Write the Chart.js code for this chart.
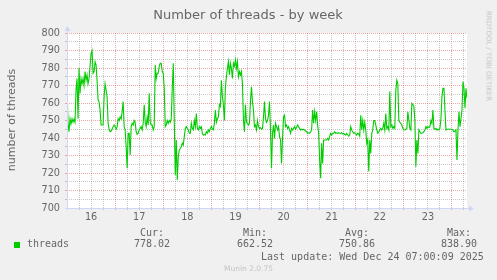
<!DOCTYPE html>
<html>
<head>
<meta charset="utf-8">
<title>Number of threads - by week</title>
<script src="https://cdn.jsdelivr.net/npm/chart.js@4.4.1/dist/chart.umd.min.js"></script>
<style>
  html, body { margin: 0; padding: 0; background: #f0f0f0; }
  #wrap { position: relative; width: 497px; height: 280px; overflow: hidden;
          font-family: 'DejaVu Sans', sans-serif; color: #666; }
  #c { position: absolute; left: 0; top: 0; }
  .t { position: absolute; white-space: nowrap; line-height: 1; }
  .mono { font-family: 'DejaVu Sans Mono', monospace; font-size: 10px; }
</style>
</head>
<body>
<div id="wrap">
  <canvas id="c" width="497" height="280"></canvas>
</div>
<script>
(function () {
    'use strict';

    // one sample every 30 minutes, starting Tue Dec 16 00:00
    var sampleStepHours = 0.5;
    var threads = [
        770, 748.4, 743.6, 751, 748, 751, 749, 750.7, 749, 767.4, 774, 751, 780, 765.5, 774, 771, 774, 770,
        778, 773, 776, 771, 774, 781, 788.4, 790, 777, 778, 783.6, 781.7, 773, 761.7, 760.8, 756, 747.4, 747.4,
        747.4, 763.6, 771, 767.4, 763.6, 748.4, 745, 743.6, 744, 745, 746.5, 747.4, 746.5, 745, 746.5, 751,
        750, 752, 751, 755, 760.8, 746.5, 744.6, 735, 722.7, 742.7, 742.7, 730.3, 746.5, 748.4, 747.4, 750, 749,
        // Dec 17 10:30
        743.6, 742, 742.7, 744.6, 745.5, 746.5, 744.6, 748.4, 759, 749, 746.5, 752, 747.4, 765.5, 749, 747.4,
        747.4, 744.6, 746.5, 781.7, 774, 777, 777, 781, 782.7, 782.7, 778, 777, 768.4, 746.5, 747.4, 750, 748.4,
        750, 749, 751, 768.4, 782.7, 750, 718.9, 738.9, 716, 729.3, 733.1, 734, 735, 737, 736, 740.8, 745.5,
        746.5, 745.5, 744.6, 742.7, 742.7, 748.4, 745.5, 744.6, 750, 746.5, 754, 745.5, 744.6, 746.5, 745.5,
        746.5, 742.7,
        // Dec 18 20:00
        741.7, 742, 741.7, 743.6, 742.7, 744.6, 743.6, 745.5, 746.5, 745, 744.6, 748.4, 756, 749, 751, 752,
        759, 758, 773, 763.6, 759, 750, 769, 775, 779.8, 783.6, 776, 782.7, 779.8, 774, 782.7, 781, 784.6,
        779.8, 783.6, 775, 778, 776, 778, 771, 750, 743.6, 759, 749, 748.4, 747.4, 748.4, 760.8, 769.3, 760.8,
        756, 746.5, 747.4, 744.6, 750, 746.5, 745.5, 746, 745, 745.5, 752, 760.8, 751, 749, 750, 753, 760.8,
        // Dec 20 05:30
        744.6, 722.7, 742.7, 747.4, 739.8, 748.4, 746.5, 744.6, 746.5, 740.8, 738.9, 725.5, 739.8, 752, 753,
        746.5, 747.4, 745.5, 746.5, 744.6, 742.7, 745.5, 744.6, 745.5, 746.5, 745, 746, 747.4, 746.5, 745.5,
        744.6, 745, 744.6, 745, 744.6, 744, 743.6, 742.7, 743, 742.7, 743.6, 744.6, 756, 748.4, 755, 750, 755,
        747.4, 742.7, 727.4, 717, 737, 725.5, 738.9, 738.9, 738.9, 738.9, 739.8, 738.9, 740.8, 742.7, 741.7,
        742.7, 742.7, 743.6, 742.7, 743, 742.7, 743, 742.7,
        // Dec 21 16:30
        742.7, 743, 742.3, 742.7, 742, 741.7, 742.7, 741.7, 741, 741.7, 746.5, 744.6, 743.6, 742.7, 743, 742.3,
        741.7, 742.7, 742.3, 741, 753, 744.6, 750, 744.6, 749, 744.6, 737, 738.9, 720.8, 738.9, 731.2, 742.7,
        744.6, 750, 750, 747.4, 744.6, 742.7, 743.6, 744.6, 745.5, 744.6, 745.5, 748.4, 744.6, 754, 745.5,
        746.5, 744.6, 766.5, 746.5, 747.4, 745.5, 746.5, 745.5, 767.4, 773, 771, 750, 749, 748.4, 747.4, 745.5,
        744.6, 744.6, 745, 745.5, 755,
        // Dec 23 02:30
        750, 745.5, 744.6, 759.8, 759, 758, 750, 723.6, 738.9, 731.2, 744.6, 743.6, 742.7, 742.7, 743, 743.6,
        744.6, 746.5, 745.5, 746.5, 746, 746.5, 750, 748.4, 756, 745.5, 745, 745.5, 744.6, 745, 744.6, 745.5,
        751, 763.6, 768.4, 768.4, 756, 744.6, 745, 745, 745, 745, 745, 745, 744.6, 743.6, 744, 744.6, 727.4,
        744.6, 755, 746.5, 751, 756, 772.2, 768.4, 757, 768.4, 762.7, 768.4
    ];
    var dayLabels = ['16', '17', '18', '19', '20', '21', '22', '23'];
    var statNames = ['Cur:', 'Min:', 'Avg:', 'Max:'];
    var statValues = ['778.02', '662.52', '750.86', '838.90'];
    var seriesName = 'threads';
    var lastUpdate = 'Last update: Wed Dec 24 07:00:09 2025';

    var RED = 'rgba(222,79,79,0.5)';
    var GRAY = 'rgba(143,143,143,0.5)';
    var AXIS = '#cfd6f8';

    var wrap = document.getElementById('wrap');
    function addText(text, cls, css) {
        var d = document.createElement('div');
        d.className = 't' + (cls ? ' ' + cls : '');
        d.textContent = text;
        d.style.cssText = css;
        wrap.appendChild(d);
        return d;
    }

    addText('Number of threads - by week', '', 'left:248px;top:13.5px;font-size:13px;transform:translate(-50%,-50%);');
    addText('number of threads', '', 'left:11px;top:120px;font-size:11px;transform:translate(-50%,-50%) rotate(-90deg);');
    addText('RRDTOOL / TOBI OETIKER', '', 'left:487.5px;top:56px;font-size:7px;color:#c4c4c4;transform:translate(-50%,-50%) rotate(90deg);');

    var sq = document.createElement('div');
    sq.style.cssText = 'position:absolute;left:14px;top:242px;width:6px;height:6px;background:#00cc00;';
    wrap.appendChild(sq);
    addText(seriesName, 'mono', 'left:27px;top:244px;transform:translate(0,-50%);');
    var statX = [152, 255, 357, 459];
    statNames.forEach(function (n, i) {
        addText(n, 'mono', 'left:' + statX[i] + 'px;top:232.7px;transform:translate(-50%,-50%);');
        addText(statValues[i], 'mono', 'left:' + statX[i] + 'px;top:244.3px;transform:translate(-50%,-50%);');
    });
    addText(lastUpdate, 'mono', 'left:261px;top:256.7px;transform:translate(0,-50%);');
    addText('Munin 2.0.75', '', 'left:248.5px;top:269.3px;font-size:7.5px;color:#c4c4c4;transform:translate(-50%,-50%);');

    var points = threads.map(function (v, i) { return { x: i * sampleStepHours, y: v }; });

    var muninFrame = {
        id: 'muninFrame',
        beforeDraw: function (chart) {
            var ctx = chart.ctx, a = chart.chartArea;
            ctx.save();
            ctx.fillStyle = '#ffffff';
            ctx.fillRect(a.left, a.top, a.right - a.left, a.bottom - a.top);
            ctx.restore();
        },
        afterDatasetsDraw: function (chart) {
            var ctx = chart.ctx, a = chart.chartArea;
            ctx.save();
            ctx.strokeStyle = AXIS;
            ctx.fillStyle = AXIS;
            ctx.lineWidth = 1;
            ctx.beginPath();
            ctx.moveTo(a.left - 2, a.bottom + 0.5);
            ctx.lineTo(a.right + 3, a.bottom + 0.5);
            ctx.moveTo(a.left + 0.5, a.bottom + 2);
            ctx.lineTo(a.left + 0.5, a.top - 3);
            ctx.stroke();
            ctx.beginPath();
            ctx.moveTo(a.right + 7, a.bottom + 0.5);
            ctx.lineTo(a.right + 2, a.bottom - 2.5);
            ctx.lineTo(a.right + 2, a.bottom + 3.5);
            ctx.closePath();
            ctx.fill();
            ctx.beginPath();
            ctx.moveTo(a.left + 0.5, a.top - 7);
            ctx.lineTo(a.left - 2.5, a.top - 2);
            ctx.lineTo(a.left + 3.5, a.top - 2);
            ctx.closePath();
            ctx.fill();
            ctx.restore();
        }
    };

    new Chart(document.getElementById('c'), {
        type: 'line',
        data: {
            datasets: [{
                label: seriesName,
                data: points,
                borderColor: '#00cc00',
                borderWidth: 1.1,
                pointRadius: 0,
                tension: 0,
                fill: false
            }]
        },
        options: {
            responsive: false,
            animation: false,
            devicePixelRatio: 1,
            layout: { padding: { top: 33, right: 30, left: 0, bottom: 0 } },
            plugins: { legend: { display: false }, tooltip: { enabled: false } },
            scales: {
                x: {
                    type: 'linear',
                    min: 0,
                    max: 199.5,
                    afterFit: function (s) { s.height = 72; },
                    ticks: {
                        stepSize: 6,
                        includeBounds: false,
                        autoSkip: false,
                        maxRotation: 0,
                        padding: 1.5,
                        color: '#666',
                        font: { family: 'DejaVu Sans', size: 9.7 },
                        callback: function (v) {
                            var k = (v - 12) / 24;
                            return (Number.isInteger(k) && dayLabels[k] !== undefined) ? dayLabels[k] : '';
                        }
                    },
                    grid: {
                        color: function (c) { return c.tick && c.tick.value % 24 === 0 ? RED : GRAY; },
                        lineWidth: 1,
                        tickLength: 2
                    },
                    border: { display: false, dash: [1, 1] }
                },
                y: {
                    min: 700,
                    max: 800,
                    afterFit: function (s) { s.width = 67; },
                    ticks: {
                        stepSize: 5,
                        autoSkip: false,
                        padding: 5,
                        color: '#666',
                        font: { family: 'DejaVu Sans', size: 9.7 },
                        callback: function (v) { return v % 10 === 0 ? String(v) : ''; }
                    },
                    grid: {
                        color: function (c) { return c.tick && c.tick.value % 10 === 0 ? RED : GRAY; },
                        lineWidth: 1,
                        tickLength: 2
                    },
                    border: { display: false, dash: [1, 1] }
                }
            }
        },
        plugins: [muninFrame]
    });
})();
</script>
</body>
</html>
